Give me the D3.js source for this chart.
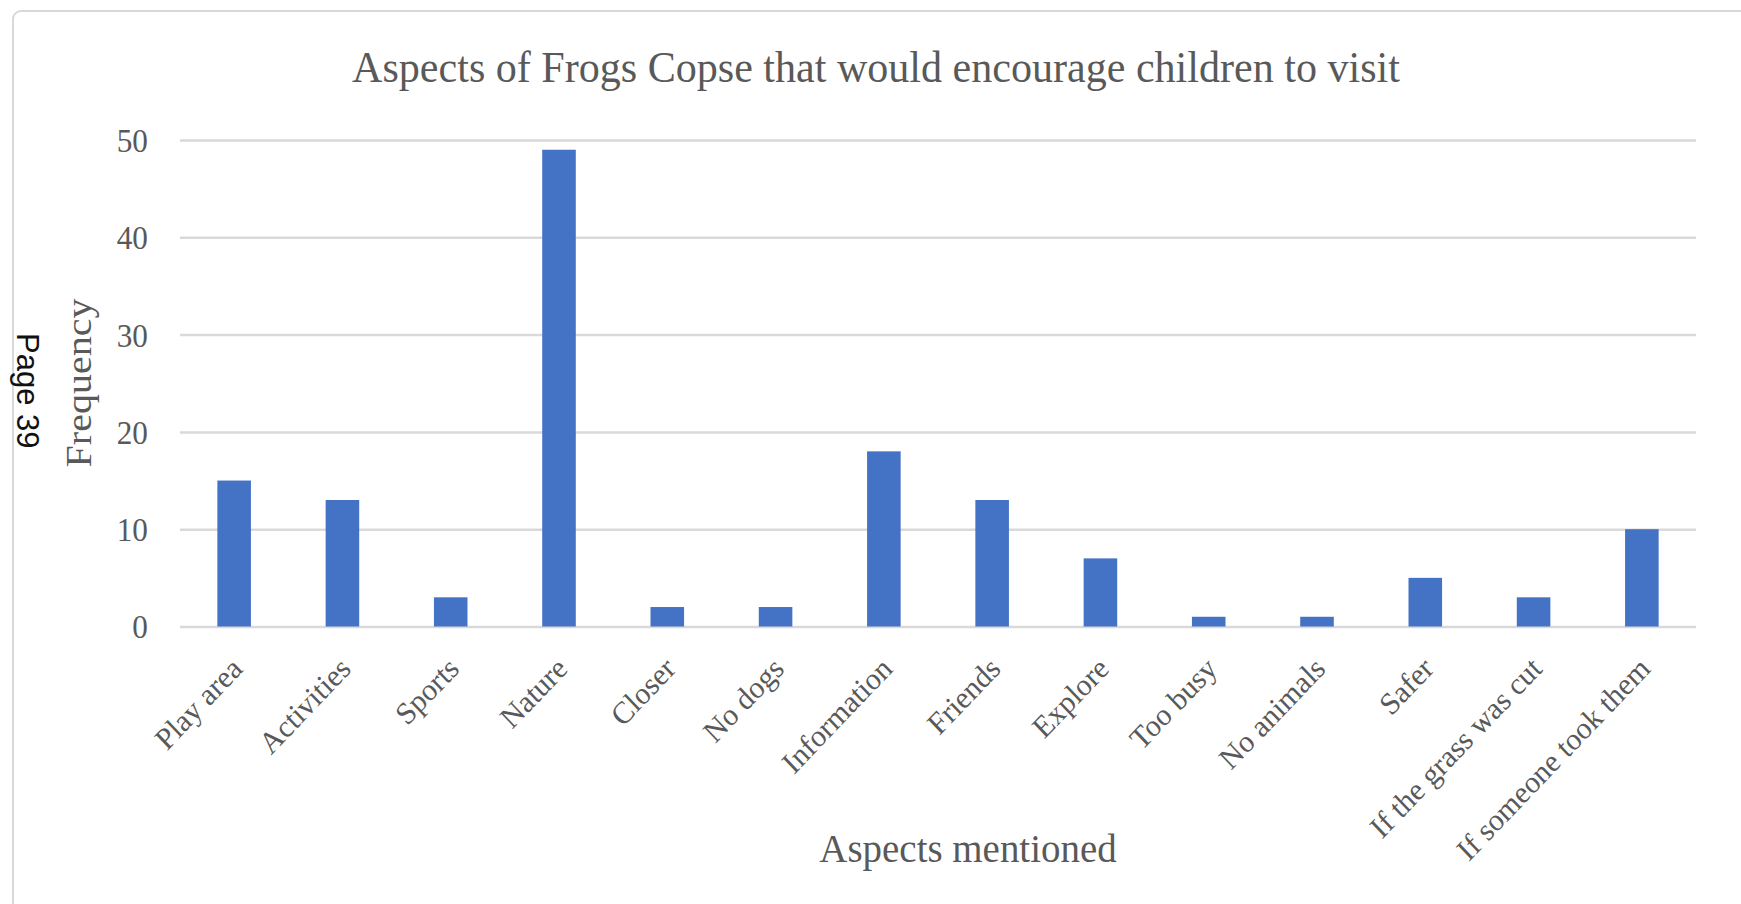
<!DOCTYPE html>
<html>
<head>
<meta charset="utf-8">
<script src="https://cdn.jsdelivr.net/npm/d3@7"></script>
<style>
  html, body { margin: 0; padding: 0; background: #ffffff; }
  svg { display: block; }
</style>
</head>
<body>
<script>
// Survey answers: aspects that would encourage children to visit
const categories = [
  "Play area", "Activities", "Sports", "Nature", "Closer", "No dogs",
  "Information", "Friends", "Explore", "Too busy", "No animals", "Safer",
  "If the grass was cut", "If someone took them"
];
const frequency = [15, 13, 3, 49, 2, 2, 18, 13, 7, 1, 1, 5, 3, 10];
const yTicks = [0, 10, 20, 30, 40, 50];

const chartTitle = "Aspects of Frogs Copse that would encourage children to visit";
const xTitle = "Aspects mentioned";
const yTitle = "Frequency";
const pageLabel = "Page 39";

const W = 1741, H = 904;
const serif = "'Liberation Serif', 'Times New Roman', serif";
const textGrey = "#595959";
const squeeze = 0.92; // glyphs are set slightly narrow

const svg = d3.select("body").append("svg")
  .attr("width", W).attr("height", H);

// chart frame (runs off the right and bottom edges)
svg.append("rect")
  .attr("x", 13).attr("y", 11)
  .attr("width", W + 40).attr("height", H + 40)
  .attr("rx", 8).attr("ry", 8)
  .attr("fill", "#ffffff")
  .attr("stroke", "#d9d9d9")
  .attr("stroke-width", 2);

const x = d3.scaleBand()
  .domain(categories)
  .range([180, 1696])
  .paddingInner(0.69)
  .paddingOuter(0.345);

const y = d3.scaleLinear()
  .domain([0, 50])
  .range([626.5, 140]);

// horizontal gridlines
const yAxis = d3.axisLeft(y)
  .tickValues(yTicks)
  .tickSize(-(1696 - 180))
  .tickFormat("");
const gy = svg.append("g")
  .attr("transform", "translate(180,0)")
  .call(yAxis);
gy.select(".domain").remove();
gy.selectAll(".tick line")
  .attr("stroke", "#d9d9d9")
  .attr("stroke-width", 2.5);

// y tick labels
svg.append("g").selectAll("text")
  .data(yTicks)
  .join("text")
  .attr("transform", d => `translate(148,${y(d)}) scale(${squeeze},1)`)
  .attr("dy", "0.35em")
  .attr("text-anchor", "end")
  .attr("font-family", serif)
  .attr("font-size", 34)
  .attr("fill", textGrey)
  .text(d => d);

// bars
svg.append("g").selectAll("rect")
  .data(categories.map((c, i) => ({ c, v: frequency[i] })))
  .join("rect")
  .attr("x", d => x(d.c))
  .attr("y", d => y(d.v))
  .attr("width", x.bandwidth())
  .attr("height", d => y(0) - y(d.v))
  .attr("fill", "#4472c4");

// category labels, slanted
svg.append("g").selectAll("text")
  .data(categories)
  .join("text")
  .attr("transform", d => `translate(${x(d) + x.bandwidth() / 2 + 10},${y(0) + 44}) scale(0.955,1) rotate(-45)`)
  .attr("text-anchor", "end")
  .attr("font-family", serif)
  .attr("font-size", 31)
  .attr("fill", textGrey)
  .text(d => d);

// chart title
svg.append("text")
  .attr("transform", "translate(876,82) scale(0.935,1)")
  .attr("text-anchor", "middle")
  .attr("font-family", serif)
  .attr("font-size", 45)
  .attr("fill", textGrey)
  .text(chartTitle);

// axis titles
svg.append("text")
  .attr("transform", "translate(968,862) scale(0.95,1)")
  .attr("text-anchor", "middle")
  .attr("font-family", serif)
  .attr("font-size", 41)
  .attr("fill", textGrey)
  .text(xTitle);

svg.append("text")
  .attr("transform", `translate(91,383) scale(${squeeze},1) rotate(-90)`)
  .attr("text-anchor", "middle")
  .attr("font-family", serif)
  .attr("font-size", 40)
  .attr("fill", textGrey)
  .text(yTitle);

// page number in the margin
svg.append("text")
  .attr("transform", "translate(17,333) rotate(90)")
  .attr("text-anchor", "start")
  .attr("font-family", "'Liberation Sans', Arial, sans-serif")
  .attr("font-size", 31)
  .attr("fill", "#111111")
  .text(pageLabel);
</script>
</body>
</html>
